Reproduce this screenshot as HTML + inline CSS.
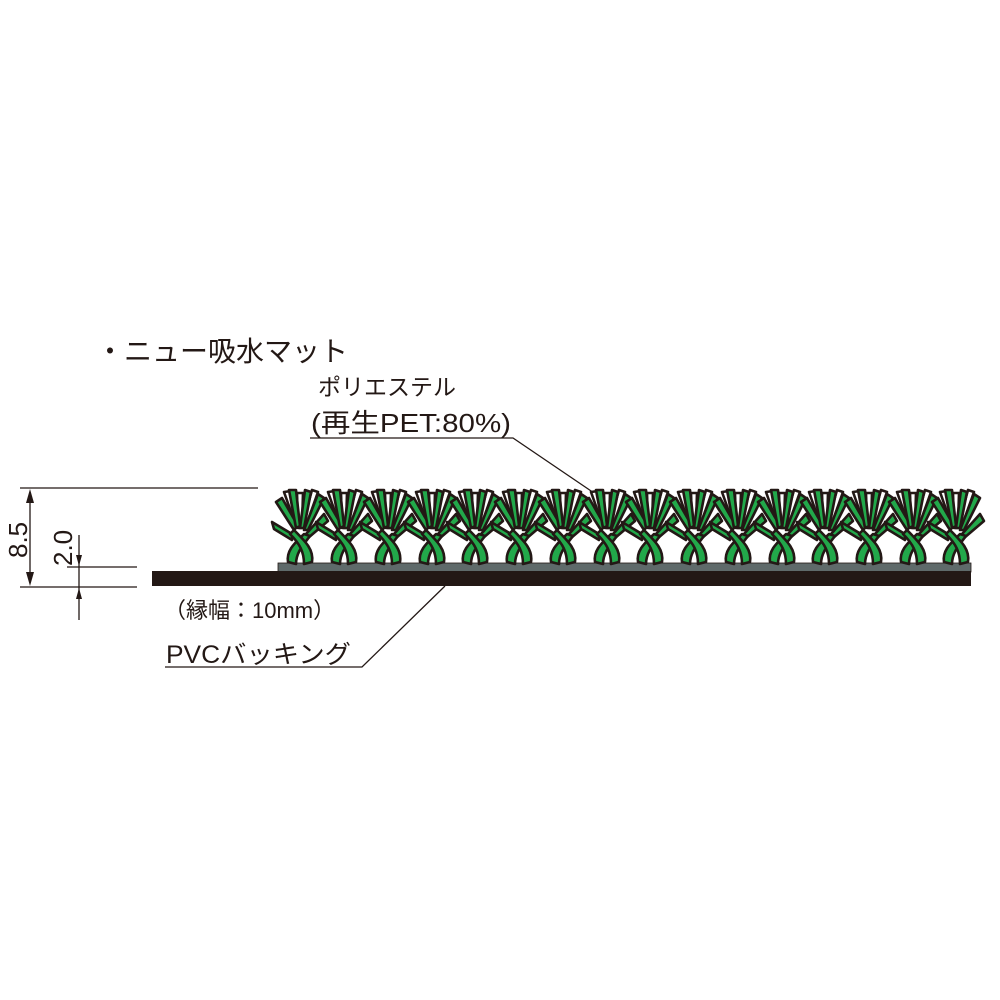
<!DOCTYPE html>
<html><head><meta charset="utf-8"><style>
html,body{margin:0;padding:0;background:#fff;}
svg{display:block;}
text{font-family:"Liberation Sans","Noto Sans CJK JP",sans-serif;fill:#231815;}
</style></head><body>
<svg width="1000" height="1000" viewBox="0 0 1000 1000" xmlns="http://www.w3.org/2000/svg">
<defs>
<g id="tuft" stroke="#231815" stroke-width="2.6" stroke-linejoin="round">
  <path d="M-4,-38 L-16,-72 L-9,-73 L0,-40 Z" fill="#fff"/>
  <path d="M2,-38 L12,-74 L18,-72 L6,-38 Z" fill="#fff"/>
  <path d="M-2,-36 L-3,-71 L3,-71 L2,-36 Z" fill="#fff"/>
  <path d="M-6,-34 L-24,-62 L-18,-66 L-2,-38 Z" fill="#22a84a"/>
  <path d="M-4,-36 L-11,-74 L-4,-74 L0,-38 Z" fill="#22a84a"/>
  <path d="M0,-36 L5,-74 L11,-72 L4,-36 Z" fill="#22a84a"/>
  <path d="M4,-34 L18,-70 L24,-66 L8,-34 Z" fill="#22a84a"/>
  <path d="M6,-30 L24,-50 L28,-43 L8,-26 Z" fill="#22a84a"/>
  <path d="M-8,-30 L-28,-42 L-26,-35 L-8,-24 Z" fill="#22a84a"/>
  <path d="M-12,-2 C-14,-14 -4,-22 4,-30 L10,-28 C4,-20 -4,-12 -4,0 Z" fill="#22a84a"/>
  <path d="M12,-2 C14,-14 6,-22 -6,-34 L-10,-30 C0,-20 4,-12 4,0 Z" fill="#22a84a"/>
</g>
</defs>

<text x="96" y="361" font-size="28">・ニュー吸水マット</text>
<text x="318" y="395" font-size="23">ポリエステル</text>
<text x="311" y="432" font-size="26" textLength="200" lengthAdjust="spacingAndGlyphs">(再生PET:80%)</text>
<polyline points="310,438 513,438 597,495" fill="none" stroke="#231815" stroke-width="1.3"/>

<g stroke="#231815" stroke-width="1.3" fill="none">
  <line x1="20" y1="488" x2="258" y2="488"/>
  <line x1="20" y1="587" x2="137" y2="587"/>
  <line x1="67" y1="567" x2="137" y2="567"/>
  <line x1="30" y1="492" x2="30" y2="583"/>
  <line x1="79" y1="535" x2="79" y2="620"/>
</g>
<g fill="#231815">
  <polygon points="30,489 26,503 34,503"/>
  <polygon points="30,586 26,572 34,572"/>
  <polygon points="79,566 76,555 82,555"/>
  <polygon points="79,588 76,599 82,599"/>
</g>
<text font-size="26" transform="translate(27,558) rotate(-90)">8.5</text>
<text font-size="26" transform="translate(72,566) rotate(-90)">2.0</text>

<rect x="278" y="563" width="693" height="9" fill="#5f6a6a" stroke="#231815" stroke-width="0.8"/>
<rect x="152" y="571" width="819" height="15" fill="#231815"/>

<g>
  <use href="#tuft" x="300" y="564"/>
  <use href="#tuft" x="344" y="564"/>
  <use href="#tuft" x="388" y="564"/>
  <use href="#tuft" x="432" y="564"/>
  <use href="#tuft" x="475" y="564"/>
  <use href="#tuft" x="519" y="564"/>
  <use href="#tuft" x="563" y="564"/>
  <use href="#tuft" x="607" y="564"/>
  <use href="#tuft" x="650" y="564"/>
  <use href="#tuft" x="694" y="564"/>
  <use href="#tuft" x="738" y="564"/>
  <use href="#tuft" x="782" y="564"/>
  <use href="#tuft" x="825" y="564"/>
  <use href="#tuft" x="869" y="564"/>
  <use href="#tuft" x="913" y="564"/>
  <use href="#tuft" x="956" y="564"/>
</g>

<text x="164" y="618" font-size="22">（縁幅：10mm）</text>
<text x="166" y="663" font-size="25" textLength="185" lengthAdjust="spacingAndGlyphs">PVCバッキング</text>
<polyline points="165,667 362,667 445,586" fill="none" stroke="#231815" stroke-width="1.3"/>
</svg>
</body></html>
